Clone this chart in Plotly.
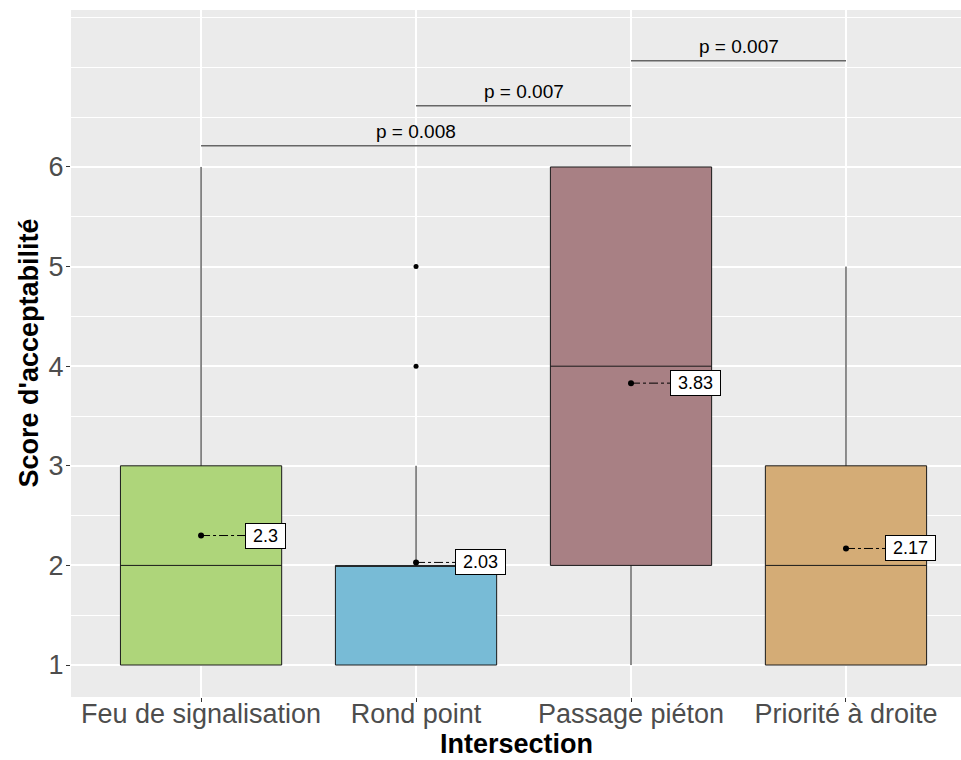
import plotly.graph_objects as go

categories = ["Feu de signalisation", "Rond point", "Passage piéton", "Priorité à droite"]
q1 = [1, 1, 2, 1]
median = [2, 2, 4, 2]
q3 = [3, 2, 6, 3]
lower_whisker = [1, 1, 1, 1]
upper_whisker = [6, 3, 6, 5]
means = [2.3, 2.03, 3.83, 2.17]
mean_labels = ["2.3", "2.03", "3.83", "2.17"]
outlier_x = [1, 1]
outlier_y = [5, 4]
colors = ["#AED57A", "#78BBD6", "#A88084", "#D4AC76"]

# significance comparisons: (group a, group b, bar height, label)
comp_a = [0, 1, 2]
comp_b = [2, 2, 3]
comp_y = [6.214, 6.615, 7.067]
comp_labels = ["p = 0.008", "p = 0.007", "p = 0.007"]

FONT = "Liberation Sans, Arial, sans-serif"
xs = list(range(len(categories)))

fig = go.Figure()
for i, cat in enumerate(categories):
    fig.add_trace(go.Box(
        x=[i], q1=[q1[i]], median=[median[i]], q3=[q3[i]],
        lowerfence=[lower_whisker[i]], upperfence=[upper_whisker[i]],
        width=0.75, whiskerwidth=0, fillcolor=colors[i],
        line=dict(color="#1A1A1A", width=1), boxpoints=False,
        showlegend=False, hoverinfo="skip",
    ))

fig.add_trace(go.Scatter(x=outlier_x, y=outlier_y, mode="markers",
                         marker=dict(color="black", size=5), showlegend=False))

for i in xs:
    fig.add_trace(go.Scatter(x=[i, i + 0.3], y=[means[i], means[i]], mode="lines",
                             line=dict(color="black", width=1, dash="dashdot"),
                             showlegend=False))
fig.add_trace(go.Scatter(x=xs, y=means, mode="markers",
                         marker=dict(color="black", size=6), showlegend=False))

for i in xs:
    fig.add_annotation(x=i + 0.3, y=means[i], text="&nbsp;" + mean_labels[i] + "&nbsp;",
                       showarrow=False,
                       font=dict(family=FONT, size=18, color="black"),
                       bgcolor="white", bordercolor="black", borderwidth=1,
                       borderpad=2, xanchor="center", yanchor="middle")

for a, b, yv, lab in zip(comp_a, comp_b, comp_y, comp_labels):
    fig.add_shape(type="line", x0=a, x1=b, y0=yv, y1=yv,
                  line=dict(color="#666666", width=1.5))
    fig.add_annotation(x=(a + b) / 2, y=yv + 0.14, text=lab, showarrow=False,
                       font=dict(family=FONT, size=19, color="black"),
                       xanchor="center", yanchor="middle")

# axis titles as annotations
fig.add_annotation(xref="paper", yref="paper", x=0.5, y=0, yshift=-63,
                   text="<b>Intersection</b>", showarrow=False, borderpad=0,
                   font=dict(family=FONT, size=27, color="black"),
                   xanchor="center", yanchor="bottom")
fig.add_annotation(xref="paper", yref="paper", x=0, y=0.5, xshift=-43,
                   text="<b>Score d'acceptabilité</b>", showarrow=False, textangle=-90,
                   font=dict(family=FONT, size=27, color="black"),
                   xanchor="center", yanchor="middle")

fig.update_layout(
    width=961, height=760,
    margin=dict(l=71, r=0, t=10, b=63),
    paper_bgcolor="white", plot_bgcolor="#EBEBEB",
    font=dict(family=FONT),
    xaxis=dict(
        automargin=False,
        range=[-0.605, 3.535], tickvals=xs, ticktext=categories,
        tickfont=dict(size=27, color="#4D4D4D"),
        ticks="outside", ticklen=4, tickcolor="#333333", tickwidth=1,
        ticklabelstandoff=-11,
        showgrid=True, gridcolor="white", gridwidth=1.5, zeroline=False,
    ),
    yaxis=dict(
        automargin=False,
        range=[0.679, 7.576], tickvals=[1, 2, 3, 4, 5, 6],
        tickfont=dict(size=27, color="#4D4D4D"),
        ticks="outside", ticklen=4, tickcolor="#333333", tickwidth=1,
        ticklabelstandoff=-3,
        showgrid=True, gridcolor="white", gridwidth=1.5, zeroline=False,
        minor=dict(tickvals=[1.5, 2.5, 3.5, 4.5, 5.5, 6.5, 7, 7.5], showgrid=True,
                   gridcolor="white", gridwidth=0.8, ticks=""),
    ),
)

fig.write_html("out.html", config={"displayModeBar": False},
               post_script="document.body.style.margin='0';")
